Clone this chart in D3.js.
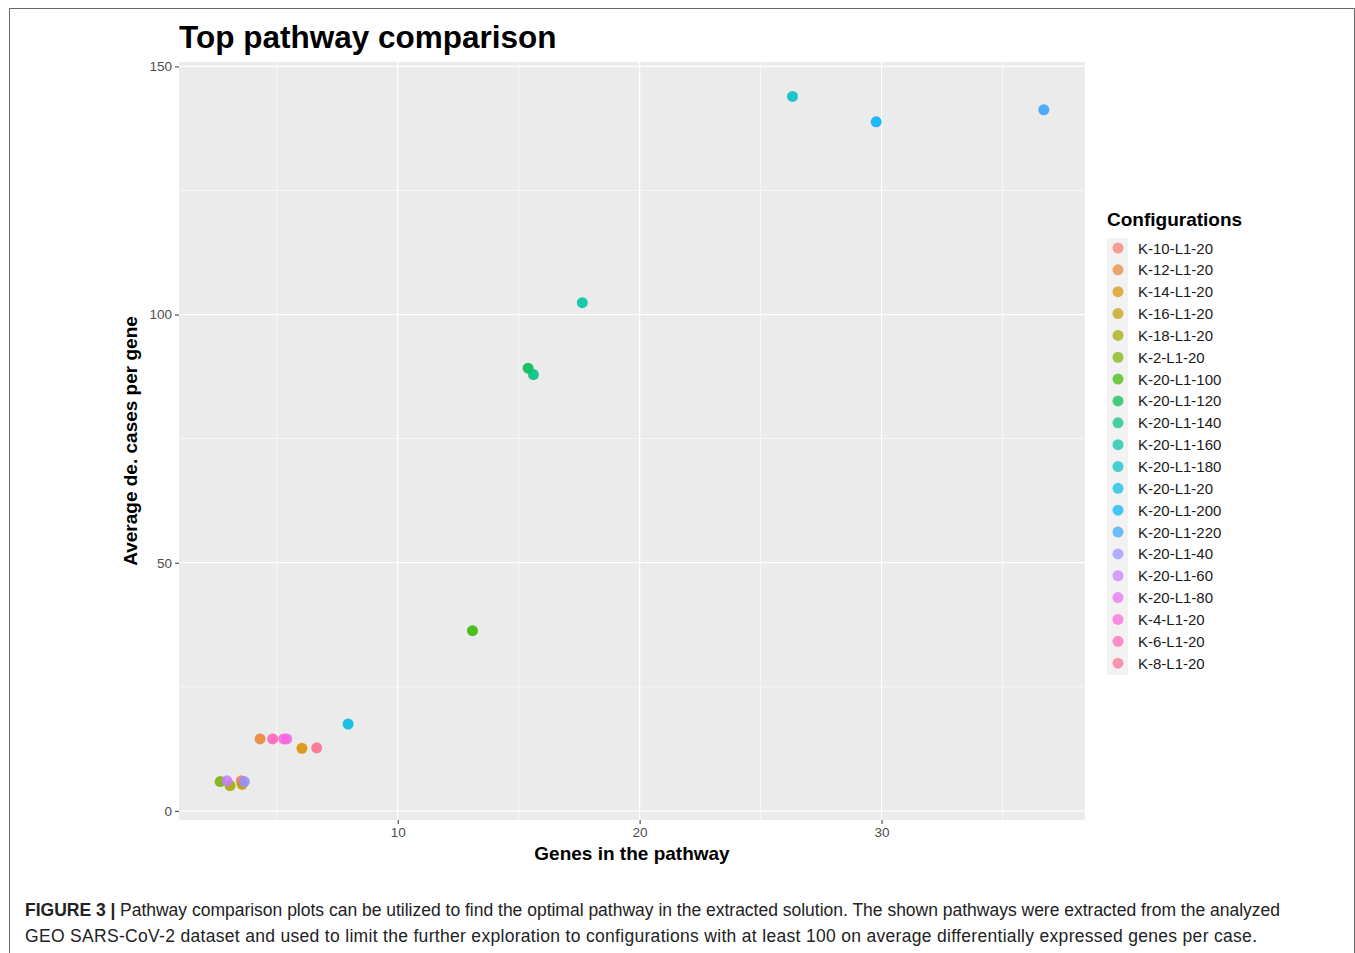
<!DOCTYPE html>
<html>
<head>
<meta charset="utf-8">
<script src="https://cdn.jsdelivr.net/npm/d3@7"></script>
<style>
body{margin:0;background:#fff;}
svg{display:block;font-family:"Liberation Sans",Arial,sans-serif;}
</style>
</head>
<body>
<script>
// configurations in legend order (ggplot sorts them alphabetically)
const configs=["K-10-L1-20","K-12-L1-20","K-14-L1-20","K-16-L1-20","K-18-L1-20","K-2-L1-20",
  "K-20-L1-100","K-20-L1-120","K-20-L1-140","K-20-L1-160","K-20-L1-180","K-20-L1-20",
  "K-20-L1-200","K-20-L1-220","K-20-L1-40","K-20-L1-60","K-20-L1-80","K-4-L1-20","K-6-L1-20","K-8-L1-20"];
// genes in the pathway, per configuration
const genes=[3.53,4.31,6.04,3.57,3.07,2.66,13.09,15.39,15.61,17.63,26.32,7.95,29.78,36.71,3.66,2.94,5.41,5.29,4.83,6.65];
// average de. cases per gene, per configuration
const cases=[6.05,14.5,12.6,5.35,5.1,5.9,36.3,89.2,87.9,102.4,143.95,17.5,138.85,141.27,5.9,6.05,14.5,14.5,14.5,12.7];
const xTicks=[10,20,30];
const yTicks=[0,50,100,150];

const W=1355,H=953;
const pLeft=179,pRight=1085,pTop=62,pBottom=820;

const svg=d3.select("body").append("svg").attr("width",W).attr("height",H);

// outer frame of the figure
svg.append("path").attr("d","M9.5,953 V8.5 H1354.5 V953").attr("fill","none").attr("stroke","#666").attr("stroke-width",1);

const data=configs.map((c,i)=>({config:c,x:genes[i],y:cases[i]}));

const xr=d3.extent(genes), yr=d3.extent(cases);
const xPad=(xr[1]-xr[0])*0.05, yPad=(yr[1]-yr[0])*0.05;
const xScale=d3.scaleLinear().domain([xr[0]-xPad,xr[1]+xPad]).range([pLeft,pRight]);
const yScale=d3.scaleLinear().domain([yr[0]-yPad,yr[1]+yPad]).range([pBottom,pTop]);

const color=d3.scaleOrdinal().domain(configs)
  .range(["#F8766D","#EA8331","#D89000","#C09B00","#A3A500","#7CAE00","#39B600","#00BB4E","#00BF7D","#00C1A3",
          "#00BFC4","#00BAE0","#00B0F6","#35A2FF","#9590FF","#C77CFF","#E76BF3","#FA62DB","#FF62BC","#FF6C91"]);

// panel
svg.append("rect").attr("x",pLeft).attr("y",pTop).attr("width",pRight-pLeft).attr("height",pBottom-pTop).attr("fill","#EBEBEB");

const grid=svg.append("g");
const xMinor=[5,15,25,35], yMinor=[25,75,125];
grid.selectAll(".xmin").data(xMinor).enter().append("line")
  .attr("x1",d=>xScale(d)).attr("x2",d=>xScale(d)).attr("y1",pTop).attr("y2",pBottom)
  .attr("stroke","#fff").attr("stroke-width",0.6);
grid.selectAll(".ymin").data(yMinor).enter().append("line")
  .attr("y1",d=>yScale(d)).attr("y2",d=>yScale(d)).attr("x1",pLeft).attr("x2",pRight)
  .attr("stroke","#fff").attr("stroke-width",0.6);
grid.selectAll(".xmaj").data(xTicks).enter().append("line")
  .attr("x1",d=>xScale(d)).attr("x2",d=>xScale(d)).attr("y1",pTop).attr("y2",pBottom)
  .attr("stroke","#fff").attr("stroke-width",1.2);
grid.selectAll(".ymaj").data(yTicks).enter().append("line")
  .attr("y1",d=>yScale(d)).attr("y2",d=>yScale(d)).attr("x1",pLeft).attr("x2",pRight)
  .attr("stroke","#fff").attr("stroke-width",1.2);

// axes
const xAxis=d3.axisBottom(xScale).tickValues(xTicks).tickSize(4).tickPadding(3);
const yAxis=d3.axisLeft(yScale).tickValues(yTicks).tickSize(4).tickPadding(3);
const gx=svg.append("g").attr("transform","translate(0,"+pBottom+")").call(xAxis);
const gy=svg.append("g").attr("transform","translate("+pLeft+",0)").call(yAxis);
[gx,gy].forEach(g=>{
  g.select(".domain").remove();
  g.selectAll(".tick line").attr("stroke","#333");
  g.selectAll(".tick text").attr("fill","#4D4D4D").style("font-size","13.5px");
});

// points
svg.append("g").selectAll("circle").data(data).enter().append("circle")
  .attr("cx",d=>xScale(d.x)).attr("cy",d=>yScale(d.y)).attr("r",5.5)
  .attr("fill",d=>color(d.config)).attr("fill-opacity",0.88);

// titles
svg.append("text").attr("x",179).attr("y",48).text("Top pathway comparison")
  .style("font-size","31.5px").style("font-weight","bold").attr("fill","#000");
svg.append("text").attr("x",(pLeft+pRight)/2).attr("y",860).attr("text-anchor","middle")
  .text("Genes in the pathway").style("font-size","19px").style("font-weight","bold").attr("fill","#000");
svg.append("text").attr("transform","translate(137,"+((pTop+pBottom)/2)+") rotate(-90)").attr("text-anchor","middle")
  .text("Average de. cases per gene").style("font-size","19px").style("font-weight","bold").attr("fill","#000");

// legend
const legend=svg.append("g").attr("transform","translate(1107,226)");
legend.append("text").attr("x",0).attr("y",0).text("Configurations")
  .style("font-size","19px").style("font-weight","bold").attr("fill","#000");
const step=21.85;
legend.append("rect").attr("x",0).attr("y",12).attr("width",21).attr("height",step*configs.length).attr("fill","#F2F2F2");
const item=legend.selectAll(".item").data(configs).enter().append("g")
  .attr("transform",(d,i)=>"translate(0,"+(22+i*step)+")");
item.append("circle").attr("cx",11).attr("cy",0).attr("r",5.5)
  .attr("fill",d=>color(d)).attr("fill-opacity",0.7);
item.append("text").attr("x",31).attr("y",5.5).text(d=>d).style("font-size","15px").attr("fill","#1A1A1A");

// caption
const cap=svg.append("g").style("font-size","17.5px").attr("fill","#222");
const l1=cap.append("text").attr("x",25).attr("y",916);
l1.append("tspan").style("font-weight","bold").text("FIGURE 3 |");
l1.append("tspan").attr("x",120)
  .attr("textLength",1160).attr("lengthAdjust","spacing")
  .text("Pathway comparison plots can be utilized to find the optimal pathway in the extracted solution. The shown pathways were extracted from the analyzed");
cap.append("text").attr("x",25).attr("y",942)
  .attr("textLength",1232).attr("lengthAdjust","spacing")
  .text("GEO SARS-CoV-2 dataset and used to limit the further exploration to configurations with at least 100 on average differentially expressed genes per case.");
</script>
</body>
</html>
